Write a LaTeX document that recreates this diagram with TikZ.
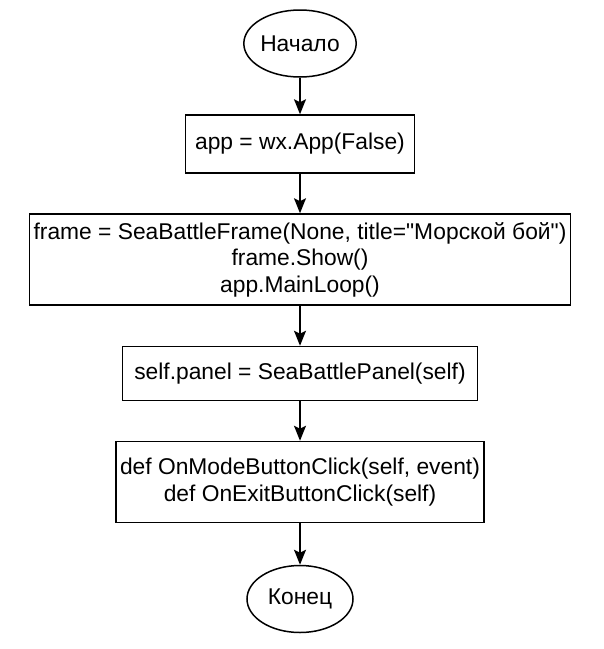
\documentclass[tikz,border=0pt]{standalone}
\usepackage{fontspec}
\setmainfont{Liberation Sans}[Ligatures=TeXOff]
\usepackage{tikz}
\usetikzlibrary{shapes, arrows.meta, positioning}
\tikzstyle{block} = [draw, rectangle, line width=1.5pt, inner sep=0pt, align=center]
\tikzstyle{terminal} = [draw, ellipse, line width=1.5pt, inner sep=0pt, minimum width=106pt, minimum height=67pt]
\tikzstyle{line} = [draw, line width=1.5pt, -{Stealth[length=15pt, width=12pt, inset=3pt]}]

\begin{document}
\begin{tikzpicture}[x=1pt, y=-1pt, node distance=40pt, font=\fontsize{22.8}{26.5}\selectfont]
    \useasboundingbox (0,0) rectangle (604,649);

    % узлы
    \node [terminal] (start) at (300,43.5) {Начало};
    \node [block, below=36.5pt of start, minimum width=229pt, minimum height=58pt] (app) {app = wx.App(False)};
    \node [block, below=39.5pt of app, minimum width=541pt, minimum height=91pt] (frame)
        {frame = SeaBattleFrame(None, title="Морской бой")\\frame.Show()\\app.MainLoop()};
    \node [block, below=40pt of frame, minimum width=355pt, minimum height=54pt] (panel) {self.panel = SeaBattlePanel(self)};
    \node [block, below=39.5pt of panel, minimum width=368pt, minimum height=81pt] (handlers)
        {def OnModeButtonClick(self, event)\\def OnExitButtonClick(self)};
    \node [terminal, below=41.5pt of handlers] (stop) {Конец};

    % стрелки
    \path [line] (start) -- (app);
    \path [line] (app) -- (frame);
    \path [line] (frame) -- (panel);
    \path [line] (panel) -- (handlers);
    \path [line] (handlers) -- (stop);
\end{tikzpicture}
\end{document}
